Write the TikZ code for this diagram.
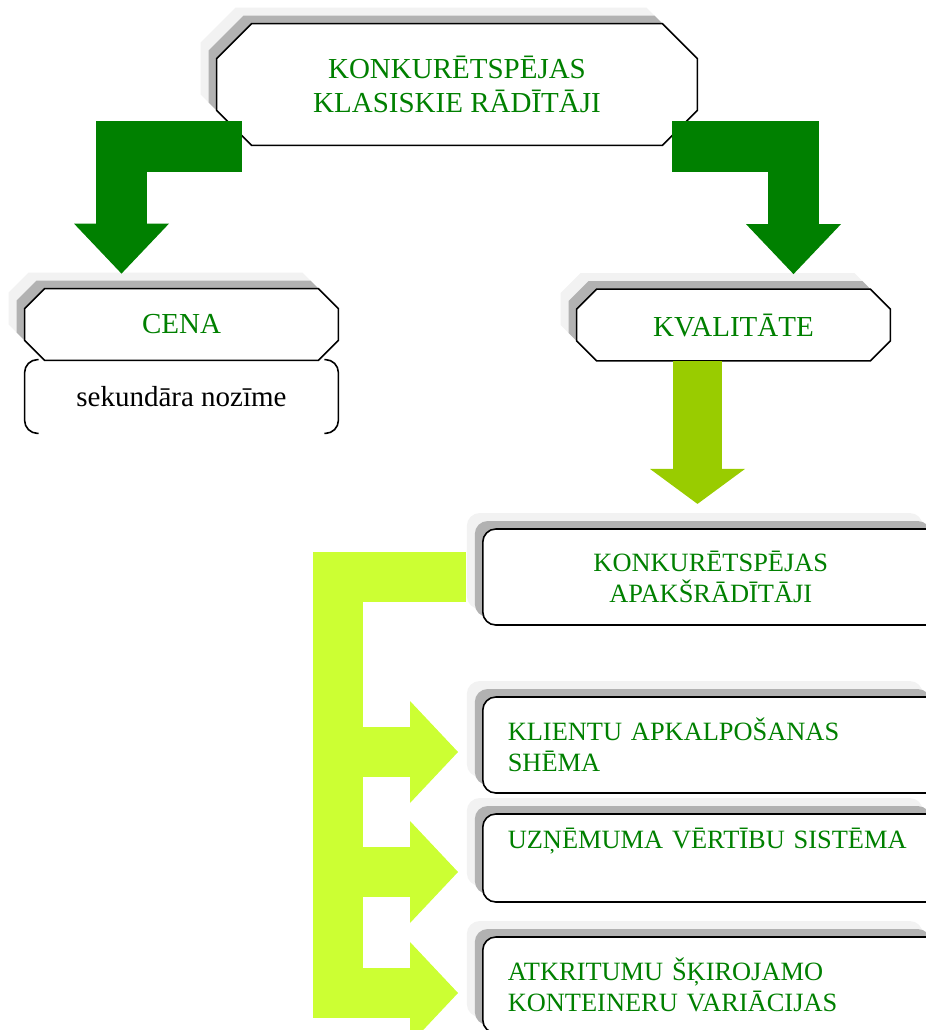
\documentclass[tikz,border=0pt]{standalone}
\usepackage{fontspec}
\setmainfont{Liberation Serif}
\usetikzlibrary{arrows.meta,calc,shadows,backgrounds}
\definecolor{rdgreen}{HTML}{008000}
\definecolor{rdlime}{HTML}{99CC00}
\definecolor{rdyellow}{HTML}{CCFF33}
\definecolor{shadedark}{HTML}{B2B2B2}
\definecolor{shadelight}{HTML}{F2F2F2}

\begin{document}
\begin{tikzpicture}[
        x=0.5pt, y=-0.5pt,
        twoshadow/.style={
          copy shadow={shadow xshift=-8pt, shadow yshift=8pt, fill=shadelight, draw=none},
          copy shadow={shadow xshift=-4pt, shadow yshift=4pt, fill=shadedark, draw=none}
        },
        octtext/.style={
          rectangle,
          inner sep=0pt,
          align=center,
          text=rdgreen,
          font=\fontsize{14.5}{17}\selectfont
        },
        octframe/.style={
          draw,
          line width=0.8pt,
          fill=white,
          twoshadow
        },
        octpath/.style 2 args={
          insert path={
            ([xshift=#2]#1.north west) -- ([xshift=-#2]#1.north east)
            -- ([yshift=-#2]#1.north east) -- ([yshift=#2]#1.south east)
            -- ([xshift=-#2]#1.south east) -- ([xshift=#2]#1.south west)
            -- ([yshift=#2]#1.south west) -- ([yshift=-#2]#1.north west) -- cycle
          }
        },
        roundbox/.style={
          rectangle,
          rounded corners=6.5pt,
          draw,
          line width=0.8pt,
          fill=white,
          twoshadow,
          anchor=west,
          minimum height=48pt,
          text width=203pt,
          inner xsep=12.5pt,
          inner ysep=0pt,
          align=left,
          text=rdgreen,
          font=\fontsize{13.2}{15.5}\selectfont
        },
        bracketline/.style={
          line width=0.8pt,
          rounded corners=6.5pt
        },
        darkarrow/.style={
          rdgreen,
          line width=25.5pt,
          line join=miter,
          -{Triangle[width=47.5pt, length=25pt, line width=0pt]}
        },
        limearrow/.style={
          rdlime,
          line width=24.5pt,
          -{Triangle[width=47.5pt, length=17.5pt, line width=0pt]}
        },
        forkline/.style={
          rdyellow,
          line width=25pt,
          line join=miter
        },
        forkarrow/.style={
          forkline,
          -{Triangle[width=51pt, length=24pt, line width=0pt]}
        }
      ]

      \useasboundingbox (0,0) rectangle (926,1030);
      \clip (0,0) rectangle (926,1030);

      % upper level
      \node[octtext, minimum width=240pt, minimum height=60.5pt] (klasiskie) at (457,84.5) {
        KONKURĒTSPĒJAS\\
        KLASISKIE RĀDĪTĀJI
      };

      \node[octtext, minimum width=156.5pt, minimum height=35.5pt] (cena) at (181.5,324.5) {CENA};

      \node[octtext, minimum width=156.5pt, minimum height=35.5pt] (kvalitate) at (733.5,325) {KVALITĀTE};

      \begin{scope}[on background layer]
        \path[octframe, octpath={klasiskie}{17.5pt}];
        \path[octframe, octpath={cena}{10pt}];
        \path[octframe, octpath={kvalitate}{10pt}];
      \end{scope}

      \node[minimum width=156.5pt, minimum height=36.5pt, inner sep=0pt,
            font=\fontsize{14.5}{17}\selectfont] (nozime) at (181.5,396.5) {sekundāra nozīme};

      \draw[bracketline] ([xshift=7pt]nozime.north west) -- (nozime.north west)
        -- (nozime.south west) -- ([xshift=7pt]nozime.south west);
      \draw[bracketline] ([xshift=-7pt]nozime.north east) -- (nozime.north east)
        -- (nozime.south east) -- ([xshift=-7pt]nozime.south east);

      \draw[darkarrow] ([xshift=12.5pt,yshift=-0.75pt]klasiskie.south west) -| ([xshift=-30pt,yshift=7.5pt]cena.north);
      \draw[darkarrow] ([xshift=-12.5pt,yshift=-0.75pt]klasiskie.south east) -| ([xshift=30pt,yshift=7.5pt]kvalitate.north);

      % lower level
      \node[roundbox, align=center] (apakss) at (482,577) {
        KONKURĒTSPĒJAS\\
        APAKŠRĀDĪTĀJI
      };

      \node[roundbox] (klienti) at (482,745) {
        KLIENTU APKALPOŠANAS\\
        SHĒMA
      };

      \node[roundbox, minimum height=44pt] (vertibas) at (482,858) {
        UZŅĒMUMA VĒRTĪBU SISTĒMA\\
        \strut
      };

      \node[roundbox] (konteineri) at (482,985) {
        ATKRITUMU ŠĶIROJAMO\\
        KONTEINERU VARIĀCIJAS
      };

      \draw[limearrow] ($(kvalitate.south)+(-36,0)$) -- ($(kvalitate.south)+(-36,143)$);

      \draw[forkarrow] ([xshift=-8pt]apakss.west) -| ($(konteineri.west)+(-144.5,8)$)
        -- ($(konteineri.west)+(-24,8)$);
      \draw[forkarrow] ($(klienti.west)+(-144.5,7)$) -- ($(klienti.west)+(-24,7)$);
      \draw[forkarrow] ($(vertibas.west)+(-144.5,14)$) -- ($(vertibas.west)+(-24,14)$);

      \end{tikzpicture}
\end{document}
